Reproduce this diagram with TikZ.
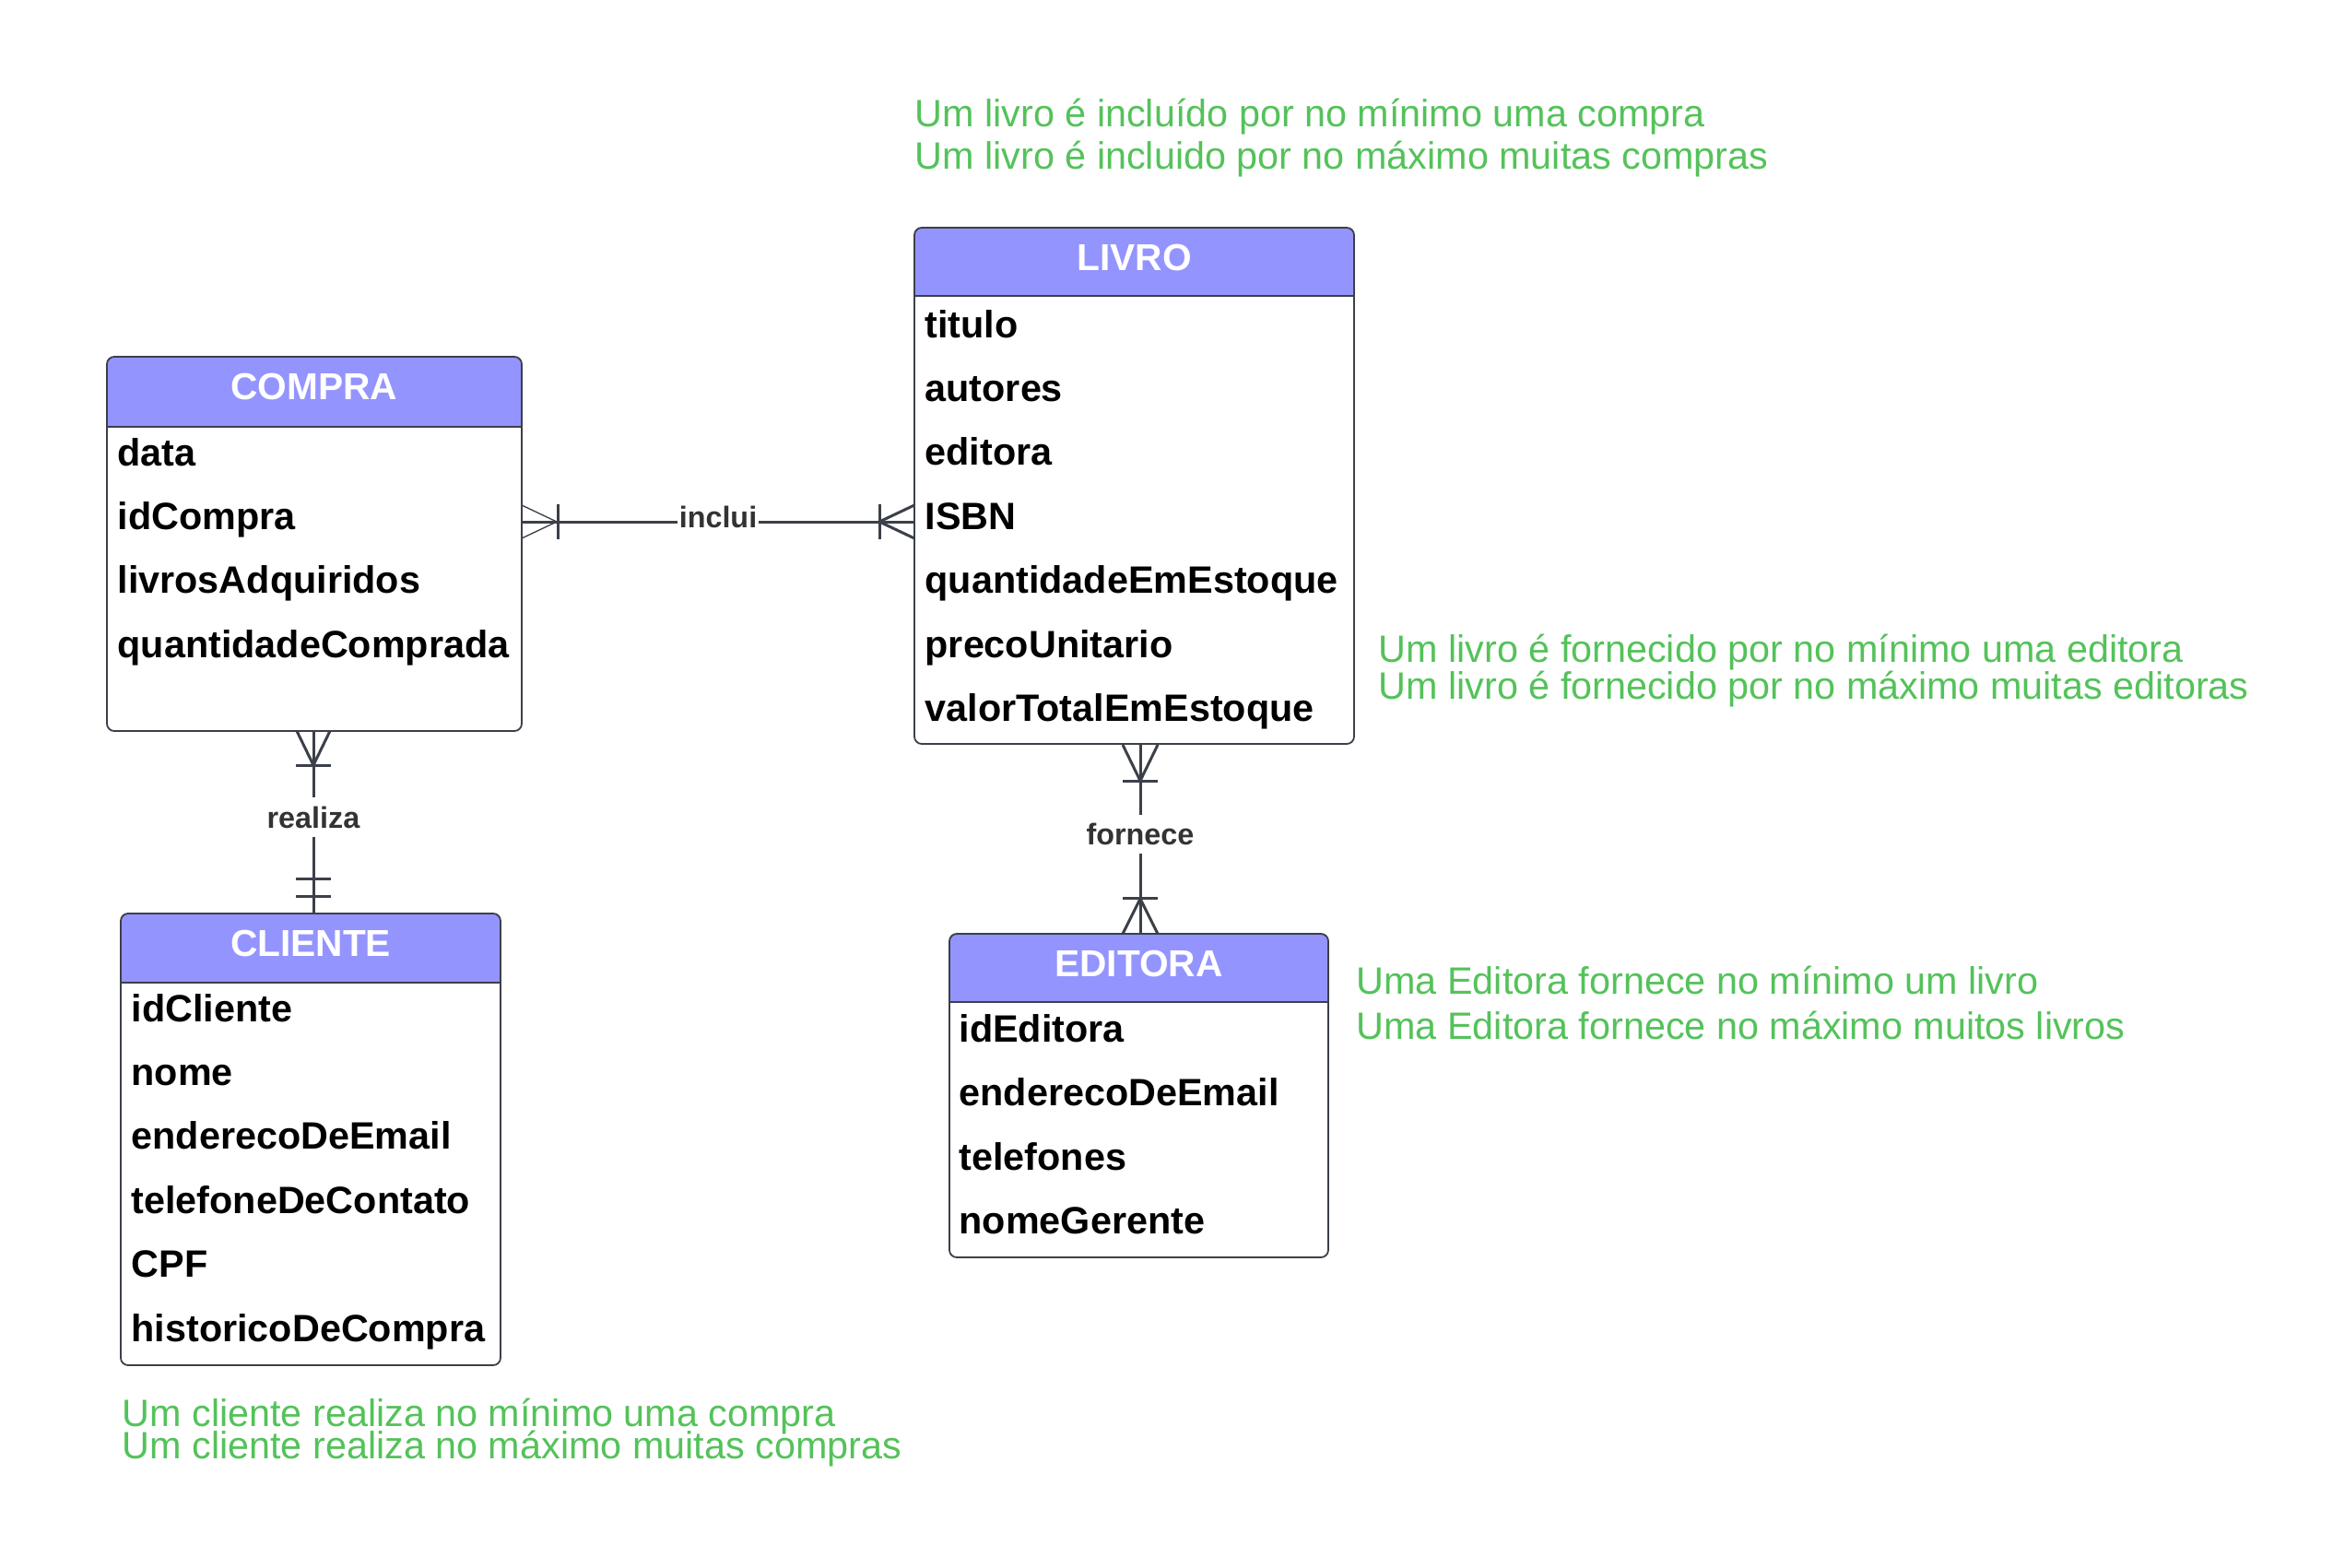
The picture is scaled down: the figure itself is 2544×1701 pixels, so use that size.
\documentclass[tikz,border=0pt]{standalone}
\usepackage{fontspec}
\setmainfont{Liberation Sans}
\definecolor{hdr}{RGB}{148,148,255}
\definecolor{edge}{RGB}{59,64,73}
\definecolor{notegreen}{RGB}{84,194,90}
\definecolor{lblcol}{RGB}{51,51,51}
\begin{document}
\begin{tikzpicture}[x=0.3pt,y=-0.3pt,
  ent/.style={draw=edge, line width=0.55pt, rounded corners=2.4pt, inner sep=0pt},
  hdrtxt/.style={text=white, font=\bfseries\fontsize{12.2}{14}\selectfont, anchor=base, inner sep=0pt},
  attr/.style={font=\bfseries\fontsize{12.4}{14}\selectfont, anchor=base west, inner sep=0pt},
  note/.style={text=notegreen, font=\fontsize{12.4}{14}\selectfont, anchor=base west, inner sep=0pt},
  conn/.style={draw=edge, line width=0.9pt},
  crowthin/.style={draw=edge, line width=0.4pt},
  lbl/.style={fill=white, text=lblcol, font=\bfseries\fontsize{9.7}{11}\selectfont, inner xsep=0.6pt, inner ysep=2.8pt, yshift=1.6pt}
]
\useasboundingbox (0,0) rectangle (2544,1701);
\fill[white] (0,0) rectangle (2544,1701);

% ---------- COMPRA ----------
\fill[hdr, rounded corners=2.4pt] (116,387) rectangle (566,463);
\fill[hdr] (116,430) rectangle (566,463);
\draw[edge, line width=0.55pt] (116,463) -- (566,463);
\node[ent, minimum width=135pt, minimum height=121.8pt] (compra) at (341,590) {};
\node[hdrtxt] (compraT) at (341,433) {COMPRA};
\node[attr] (c1) at (127,505) {data};
\node[attr] (c2) at (127,574.4) {idCompra};
\node[attr] (c3) at (127,643.8) {livrosAdquiridos};
\node[attr] (c4) at (127,713.2) {quantidadeComprada};

% ---------- LIVRO ----------
\fill[hdr, rounded corners=2.4pt] (992,247) rectangle (1469,321);
\fill[hdr] (992,290) rectangle (1469,321);
\draw[edge, line width=0.55pt] (992,321) -- (1469,321);
\node[ent, minimum width=143.1pt, minimum height=168pt] (livro) at (1230.5,527) {};
\node[hdrtxt] (livroT) at (1230.5,293) {LIVRO};
\node[attr] (l1) at (1003,366) {titulo};
\node[attr] (l2) at (1003,435.4) {autores};
\node[attr] (l3) at (1003,504.8) {editora};
\node[attr] (l4) at (1003,574.2) {ISBN};
\node[attr] (l5) at (1003,643.6) {quantidadeEmEstoque};
\node[attr] (l6) at (1003,713) {precoUnitario};
\node[attr] (l7) at (1003,782.4) {valorTotalEmEstoque};

% ---------- CLIENTE ----------
\fill[hdr, rounded corners=2.4pt] (131,991) rectangle (543,1066);
\fill[hdr] (131,1030) rectangle (543,1066);
\draw[edge, line width=0.55pt] (131,1066) -- (543,1066);
\node[ent, minimum width=123.6pt, minimum height=147pt] (cliente) at (337,1236) {};
\node[hdrtxt] (clienteT) at (337,1037) {CLIENTE};
\node[attr] (k1) at (142,1108) {idCliente};
\node[attr] (k2) at (142,1177.4) {nome};
\node[attr] (k3) at (142,1246.8) {enderecoDeEmail};
\node[attr] (k4) at (142,1316.2) {telefoneDeContato};
\node[attr] (k5) at (142,1385.6) {CPF};
\node[attr] (k6) at (142,1455) {historicoDeCompra};

% ---------- EDITORA ----------
\fill[hdr, rounded corners=2.4pt] (1030,1013) rectangle (1441,1087);
\fill[hdr] (1030,1050) rectangle (1441,1087);
\draw[edge, line width=0.55pt] (1030,1087) -- (1441,1087);
\node[ent, minimum width=123.3pt, minimum height=105.3pt] (editora) at (1235.5,1188.5) {};
\node[hdrtxt] (editoraT) at (1235.5,1059) {EDITORA};
\node[attr] (e1) at (1040,1130.5) {idEditora};
\node[attr] (e2) at (1040,1199.9) {enderecoDeEmail};
\node[attr] (e3) at (1040,1269.3) {telefones};
\node[attr] (e4) at (1040,1338.7) {nomeGerente};

% ---------- notes ----------
\node[note] (n1a) at (992,137) {Um livro é incluído por no mínimo uma compra};
\node[note] (n1b) at (992,183) {Um livro é incluido por no máximo muitas compras};
\node[note] (n2a) at (1495,718) {Um livro é fornecido por no mínimo uma editora};
\node[note] (n2b) at (1495,758) {Um livro é fornecido por no máximo muitas editoras};
\node[note] (n3a) at (1471,1078) {Uma Editora fornece no mínimo um livro};
\node[note] (n3b) at (1471,1127) {Uma Editora fornece no máximo muitos livros};
\node[note] (n4a) at (132,1547) {Um cliente realiza no mínimo uma compra};
\node[note] (n4b) at (132,1582) {Um cliente realiza no máximo muitas compras};

% ---------- inclui ----------
\coordinate (iA) at (566,566);
\coordinate (iB) at (992,566);
\draw[conn] (iA) -- node[lbl] (inclui) {inclui} (iB);
\draw[crowthin] (iA) ++(0,-18) -- ++(38,18) -- ++(-38,18);
\draw[conn] (iA) ++(39,-19) -- ++(0,38);
\draw[conn] (iB) ++(0,-18) -- ++(-38,18) -- ++(38,18);
\draw[conn] (iB) ++(-38,-19) -- ++(0,38);

% ---------- realiza ----------
\coordinate (rA) at (340,793);
\coordinate (rB) at (340,991);
\draw[conn] (rA) -- node[lbl] (realiza) {realiza} (rB);
\draw[conn] (rA) ++(-18,0) -- ++(18,37) -- ++(18,-37);
\draw[conn] (rA) ++(-19,37) -- ++(38,0);
\draw[conn] (rB) ++(-19,-38) -- ++(38,0);
\draw[conn] (rB) ++(-19,-19) -- ++(38,0);

% ---------- fornece ----------
\coordinate (fA) at (1237,808);
\coordinate (fB) at (1237,1013);
\draw[conn] (fA) -- node[lbl] (fornece) {fornece} (fB);
\draw[conn] (fA) ++(-19,0) -- ++(19,39) -- ++(19,-39);
\draw[conn] (fA) ++(-19,39) -- ++(38,0);
\draw[conn] (fB) ++(-19,0) -- ++(19,-38) -- ++(19,38);
\draw[conn] (fB) ++(-19,-39) -- ++(38,0);
\end{tikzpicture}
\end{document}
